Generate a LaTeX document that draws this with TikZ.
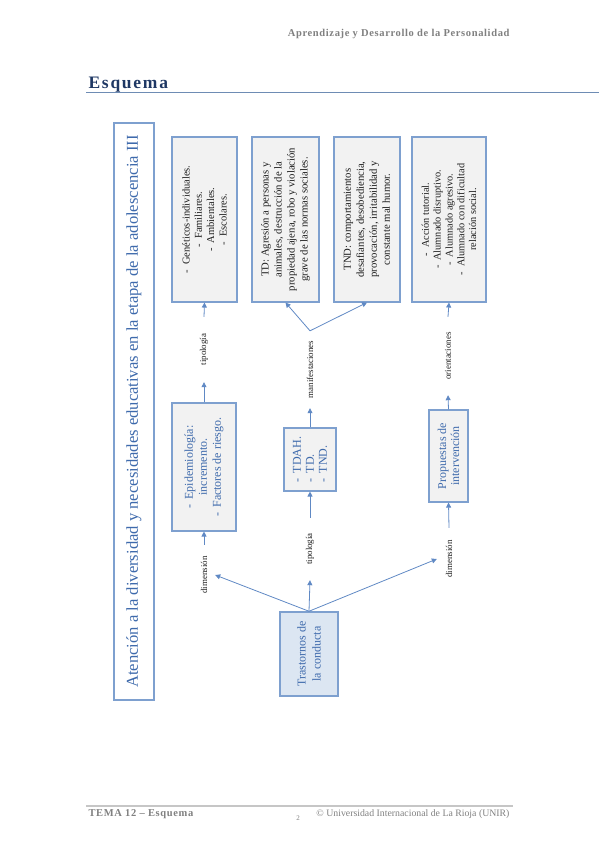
\documentclass[tikz,border=0pt]{standalone}
\usepackage{fontspec}
\setmainfont{Liberation Serif}
\usetikzlibrary{arrows.meta}
\definecolor{bordc}{RGB}{126,160,207}
\definecolor{arrc}{RGB}{96,137,196}
\definecolor{boxfill}{RGB}{242,242,242}
\definecolor{hfill}{RGB}{220,230,242}
\definecolor{bluetxt}{RGB}{62,106,172}
\definecolor{headgray}{RGB}{128,128,128}
\definecolor{esqblue}{RGB}{31,56,100}
\definecolor{ruleblue}{RGB}{110,140,180}
\definecolor{darktxt}{RGB}{30,30,30}
\begin{document}
\begin{tikzpicture}[x=1pt,y=-1pt,
  box/.style={draw=bordc, line width=1.1pt, fill=boxfill, rotate=90, inner sep=2pt, align=center, text=darktxt, font=\fontsize{10.5}{12.3}\selectfont},
  bluebox/.style={box, text=bluetxt, font=\fontsize{12}{14}\selectfont},
  lab/.style={rotate=90, inner sep=0pt, minimum height=14, text=darktxt, font=\fontsize{8.9}{10}\selectfont},
  arr/.style={draw=arrc, line width=0.8pt, -{Triangle[length=5pt,width=5pt]}}
]
\useasboundingbox (0,0) rectangle (599,848);
% header
\node[anchor=east, text=headgray, font=\fontsize{10.5}{12}\selectfont\bfseries\addfontfeature{LetterSpace=6}] (hd) at (513,34) {Aprendizaje y Desarrollo de la Personalidad};
\node[anchor=base west, text=esqblue, font=\fontsize{17.5}{20}\selectfont\bfseries\addfontfeature{LetterSpace=10}] (esq) at (85,89) {Esquema};
\draw[ruleblue, line width=1.5pt] (86,92.5) -- (599,92.5);
% footer
\draw[gray!45, line width=1.2pt] (86,806) -- (513,806);
\node[anchor=west, text=headgray, font=\fontsize{10.5}{12}\selectfont\bfseries\addfontfeature{LetterSpace=6}] (ft1) at (85,814) {TEMA 12 – Esquema};
\node[text=headgray, font=\fontsize{7}{8}\selectfont] (pg) at (298,818) {2};
\node[anchor=east, text=headgray, font=\fontsize{9.8}{11}\selectfont] (ft2) at (513,814) {© Universidad Internacional de La Rioja (UNIR)};
% title
\node[box, fill=white, minimum width=577, minimum height=40, text=bluetxt, font=\fontsize{16.6}{18}\selectfont] (T) at (134,411.5) {Atención a la diversidad y necesidades educativas en la etapa de la adolescencia III};
% top boxes
\node[box, minimum width=165, minimum height=65] (A) at (204.5,219.5) {-\hspace{5pt}Genéticos-individuales.\\-\hspace{5pt}Familiares.\\-\hspace{5pt}Ambientales.\\-\hspace{5pt}Escolares.};
\node[box, minimum width=165, minimum height=67, font=\fontsize{10.7}{13}\selectfont] (B) at (285.5,219.5) {TD: Agresión a personas y\\animales, destrucción de la\\propiedad ajena, robo y violación\\grave de las normas sociales.};
\node[box, minimum width=165, minimum height=66, font=\fontsize{10.7}{13}\selectfont] (C) at (367,219.5) {TND: comportamientos\\desafiantes, desobediencia,\\provocación, irritabilidad y\\constante mal humor.};
\node[box, minimum width=165, minimum height=74, font=\fontsize{10.3}{11.8}\selectfont] (D) at (449,219.5) {-\hspace{5pt}Acción tutorial.\\-\hspace{5pt}Alumnado disruptivo.\\-\hspace{5pt}Alumnado agresivo.\\-\hspace{5pt}Alumnado con dificultad\\relación social.};
% middle boxes
\node[bluebox, minimum width=128, minimum height=64, font=\fontsize{12}{14}\selectfont] (E) at (204,467) {-\hspace{5pt}Epidemiología:\\incremento.\\-\hspace{5pt}Factores de riesgo.};
\node[bluebox, minimum width=63, minimum height=52, align=left, font=\fontsize{12}{13}\selectfont] (F) at (310,459.5) {-\hspace{5pt}TDAH.\\-\hspace{5pt}TD.\\-\hspace{5pt}TND.};
\node[bluebox, minimum width=92, minimum height=39, font=\fontsize{12}{13}\selectfont] (G) at (448.5,456) {Propuestas de\\intervención};
% bottom box
\node[bluebox, fill=hfill, line width=1.5pt, minimum width=84, minimum height=58, font=\fontsize{12}{15}\selectfont] (H) at (309,654) {Trastornos de\\la conducta};
% labels
\node[lab, minimum width=65] (Lt1) at (204,349.5) {tipología};
\node[lab, minimum width=77] (Lm) at (310,369.5) {manifestaciones};
\node[lab, minimum width=78] (Lo) at (448,356) {orientaciones};
\node[lab, minimum width=62] (Lt2) at (310,549) {tipología};
\node[lab, minimum width=60, minimum height=22] (Ld1) at (204,575) {dimensión};
\node[lab, minimum width=62, minimum height=24] (Ld2) at (449,559) {dimensión};
% connectors
\draw[arr] (H.east) -- (Ld1.south);
\draw[arr] (H.east) -- (Lt2.west);
\draw[arr] (H.east) -- (Ld2.north);
\draw[arr] (Ld1.east) -- (E.west);
\draw[arr] (Lt2.east) -- (F.west);
\draw[arr] (Ld2.east) -- (G.west);
\draw[arr] (E.east) -- (Lt1.west);
\draw[arr] (Lt1.east) -- (A.west);
\draw[arr] (F.east) -- (Lm.west);
\draw[arr] (Lm.east) -- (B.west);
\draw[arr] (Lm.east) -- (C.west);
\draw[arr] (G.east) -- (Lo.west);
\draw[arr] (Lo.east) -- (D.west);
\end{tikzpicture}
\end{document}
